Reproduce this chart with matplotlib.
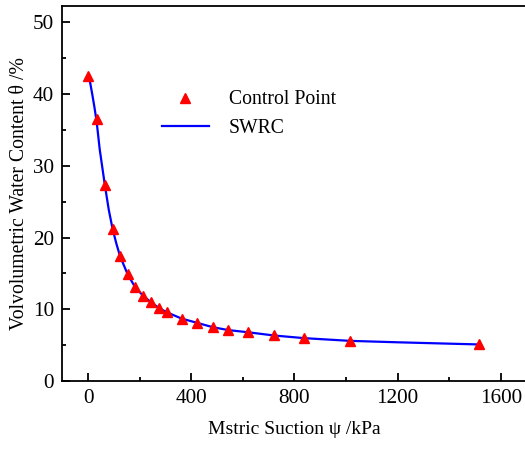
import matplotlib
matplotlib.use("Agg")
import matplotlib.pyplot as plt
from matplotlib.ticker import MultipleLocator

plt.rcParams['font.family'] = ['Liberation Serif', 'DejaVu Serif']
plt.rcParams['mathtext.fontset'] = 'stix'

# control points
suction = [0, 33, 65, 95, 124, 153, 182, 213, 243, 274, 304, 363, 424,
           484, 544, 620, 720, 837, 1015, 1515]
theta = [42.6, 36.6, 27.3, 21.2, 17.4, 14.9, 13.1, 11.9, 11.0, 10.2, 9.6,
         8.7, 8.1, 7.5, 7.1, 6.8, 6.35, 5.98, 5.65, 5.14]

# fitted SWRC line
swrc_x = [0, 8, 16, 24, 33, 45, 65, 80, 95, 110, 124, 153, 182, 213, 243,
          274, 304, 363, 424, 484, 544, 620, 720, 837, 1015, 1200, 1515]
swrc_y = [42.6, 41.6, 40.0, 38.3, 36.2, 32.3, 27.3, 23.9, 21.2, 19.1, 17.4,
          14.9, 13.1, 11.9, 11.0, 10.2, 9.6, 8.7, 8.1, 7.5, 7.1, 6.8, 6.35,
          5.98, 5.6, 5.4, 5.1]

fig = plt.figure(figsize=(5.25, 4.5), dpi=100)
ax = fig.add_axes([0.1187, 0.1533, 0.8843, 0.8334])

ax.plot(swrc_x, swrc_y, color='#0000ff', lw=1.6, label='SWRC', zorder=2)
ax.plot(suction, theta, ls='none', marker='^', color='#ff0000', ms=7.5,
        label='Control Point', zorder=3)

ax.set_xlim(-100, 1700)
ax.set_ylim(0, 52.3)
ax.xaxis.set_major_locator(MultipleLocator(400))
ax.xaxis.set_minor_locator(MultipleLocator(200))
ax.yaxis.set_major_locator(MultipleLocator(10))
ax.yaxis.set_minor_locator(MultipleLocator(5))
ax.tick_params(which='both', direction='in', top=False, right=False,
               labelsize=15.2, width=1.3)
ax.tick_params(which='major', length=5.5, pad=6)
ax.tick_params(which='minor', length=3)
for s in ax.spines.values():
    s.set_linewidth(1.3)

ax.set_xlabel('Mstric Suction ψ /kPa', fontsize=14, labelpad=9)
ax.set_ylabel('Volvolumetric Water Content θ /%', fontsize=14.2, labelpad=3)

h, l = ax.get_legend_handles_labels()
ax.legend(h[::-1], l[::-1], loc='upper left', bbox_to_anchor=(0.176, 0.822),
          frameon=False, fontsize=14.2, handlelength=2.4, labelspacing=0.5,
          handletextpad=1.0)

fig.savefig('out.png', dpi=100)
